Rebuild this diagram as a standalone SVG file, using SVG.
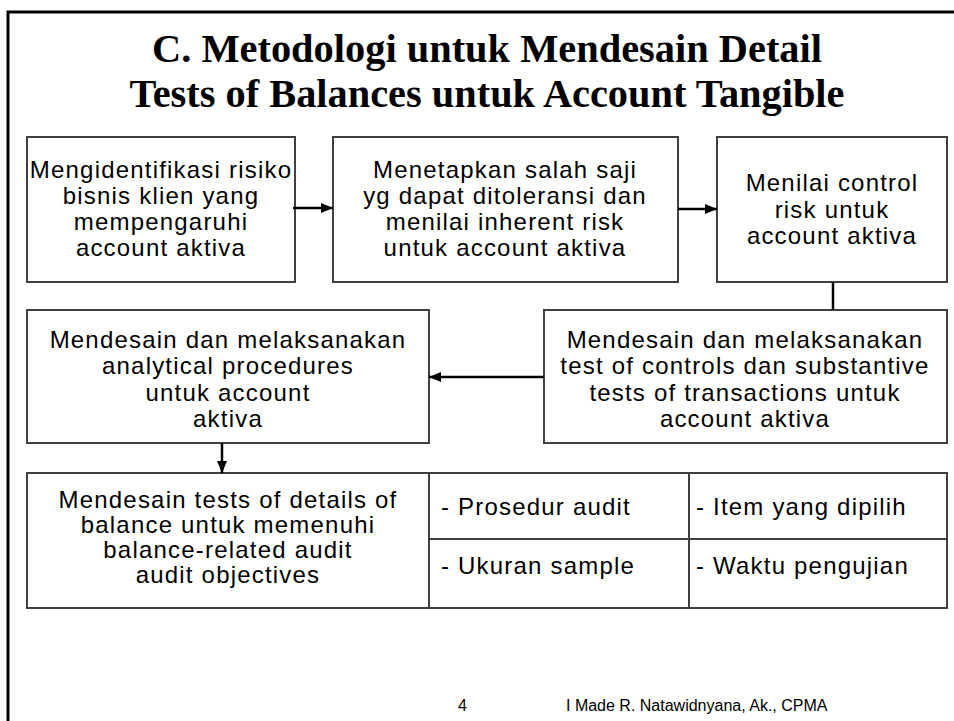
<svg xmlns="http://www.w3.org/2000/svg" width="954" height="721" viewBox="0 0 954 721">
<defs>
<marker id="ah" viewBox="0 0 12 10" refX="12" refY="5" markerWidth="12" markerHeight="10" markerUnits="userSpaceOnUse" orient="auto">
<path d="M0,0 L12,5 L0,10 Z" fill="#000"/>
</marker>
</defs>
<style>
.box{fill:#fff;stroke:#404040;stroke-width:2}
.t{font-family:"Liberation Sans",Arial,sans-serif;font-size:24px;fill:#000;text-anchor:middle;letter-spacing:1.2px}
.tl{font-family:"Liberation Sans",Arial,sans-serif;font-size:24px;fill:#000;letter-spacing:1.2px}
.title{font-family:"Liberation Serif","Times New Roman",serif;font-weight:bold;font-size:40px;fill:#000;text-anchor:middle}
.foot{font-family:"Liberation Sans",Arial,sans-serif;font-size:16px;fill:#000}
.conn{stroke:#000;stroke-width:2.5;fill:none}
</style>
<rect x="0" y="0" width="954" height="721" fill="#fff"/>
<rect x="8" y="12" width="1000" height="800" fill="none" stroke="#000" stroke-width="3"/>
<g id="title">
<text class="title" x="487" y="62" textLength="670" lengthAdjust="spacingAndGlyphs">C. Metodologi untuk Mendesain Detail</text>
<text class="title" x="487" y="107" textLength="715" lengthAdjust="spacingAndGlyphs">Tests of Balances untuk Account Tangible</text>
</g>
<g id="node1">
<rect class="box" x="27" y="137" width="268" height="145"/>
<text class="t" x="161" y="178">Mengidentifikasi risiko</text>
<text class="t" x="161" y="204">bisnis klien yang</text>
<text class="t" x="161" y="230">mempengaruhi</text>
<text class="t" x="161" y="256">account aktiva</text>
</g>
<g id="node2">
<rect class="box" x="333" y="137" width="345" height="145"/>
<text class="t" x="505" y="178">Menetapkan salah saji</text>
<text class="t" x="505" y="204">yg dapat ditoleransi dan</text>
<text class="t" x="505" y="230">menilai inherent risk</text>
<text class="t" x="505" y="256">untuk account aktiva</text>
</g>
<g id="node3">
<rect class="box" x="717" y="137" width="230" height="145"/>
<text class="t" x="832" y="191">Menilai control</text>
<text class="t" x="832" y="218">risk untuk</text>
<text class="t" x="832" y="244">account aktiva</text>
</g>
<g id="node4">
<rect class="box" x="27" y="310" width="402" height="133"/>
<text class="t" x="228" y="348">Mendesain dan melaksanakan</text>
<text class="t" x="228" y="374">analytical procedures</text>
<text class="t" x="228" y="401">untuk account</text>
<text class="t" x="228" y="427">aktiva</text>
</g>
<g id="node5">
<rect class="box" x="544" y="310" width="403" height="133"/>
<text class="t" x="745" y="348">Mendesain dan melaksanakan</text>
<text class="t" x="745" y="374">test of controls dan substantive</text>
<text class="t" x="745" y="401">tests of transactions untuk</text>
<text class="t" x="745" y="427">account aktiva</text>
</g>
<g id="node6">
<rect class="box" x="27" y="473" width="920" height="135"/>
<line x1="429" y1="473" x2="429" y2="608" stroke="#404040" stroke-width="2"/>
<line x1="689" y1="473" x2="689" y2="608" stroke="#404040" stroke-width="2"/>
<line x1="429" y1="539" x2="947" y2="539" stroke="#404040" stroke-width="2"/>
<text class="t" x="228" y="508">Mendesain tests of details of</text>
<text class="t" x="228" y="533">balance untuk memenuhi</text>
<text class="t" x="228" y="558">balance-related audit</text>
<text class="t" x="228" y="583">audit objectives</text>
<text class="tl" x="441" y="515">- Prosedur audit</text>
<text class="tl" x="696" y="515">- Item yang dipilih</text>
<text class="tl" x="441" y="574">- Ukuran sample</text>
<text class="tl" x="696" y="574">- Waktu pengujian</text>
</g>
<g id="connectors">
<line class="conn" x1="293" y1="208" x2="333" y2="208" marker-end="url(#ah)"/>
<line class="conn" x1="678" y1="209" x2="717" y2="209" marker-end="url(#ah)"/>
<line class="conn" x1="833" y1="282" x2="833" y2="310"/>
<line class="conn" x1="544" y1="377" x2="429" y2="377" marker-end="url(#ah)"/>
<line class="conn" x1="222" y1="443" x2="222" y2="473" marker-end="url(#ah)"/>
</g>
<g id="footer">
<text class="foot" x="458" y="711">4</text>
<text class="foot" x="566" y="711">I Made R. Natawidnyana, Ak., CPMA</text>
</g>
</svg>
